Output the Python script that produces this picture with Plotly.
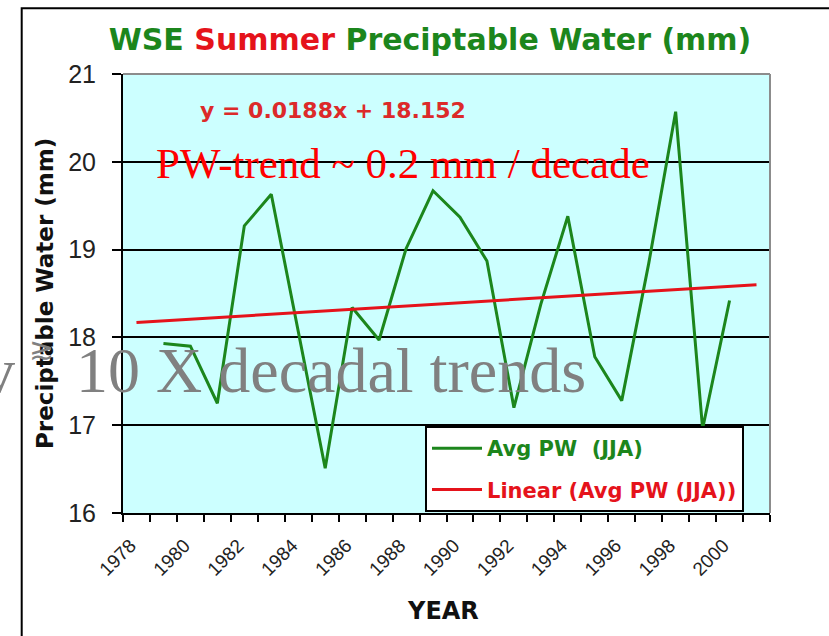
import plotly.graph_objects as go

# ---- data ----
years = [1979, 1980, 1981, 1982, 1983, 1984, 1985, 1986, 1987, 1988, 1989,
         1990, 1991, 1992, 1993, 1994, 1995, 1996, 1997, 1998, 1999, 2000]
avg_pw = [17.93, 17.90, 17.25, 19.27, 19.63, 18.05, 16.51, 18.34, 17.97, 19.01, 19.67,
          19.37, 18.87, 17.20, 18.38, 19.38, 17.78, 17.28, 18.84, 20.57, 16.96, 18.42]
trend_years = [1978, 2001]
trend_values = [18.17, 18.60]
tick_years = [1978, 1980, 1982, 1984, 1986, 1988, 1990, 1992, 1994, 1996, 1998, 2000]
tick_labels = [str(y) for y in tick_years]
category_edges = [1977.5 + i for i in range(25)]

GREEN = "#1C861C"
RED = "#E5131B"
GREY = "#808080"

W, H = 829, 636
L, R, T, B = 123, 59, 74, 123
PW = W - L - R
PH = H - T - B


def xp(px):
    return (px - L) / PW


def yp(py):
    return (H - B - py) / PH


fig = go.Figure()
fig.add_trace(go.Scatter(
    x=years, y=avg_pw, mode="lines",
    name="<b><span style='color:%s'>Avg PW  (JJA)</span></b>" % GREEN,
    line=dict(color=GREEN, width=3), legendgroup="a"))
fig.add_trace(go.Scatter(
    x=trend_years, y=trend_values, mode="lines",
    name="<b><span style='color:%s'>Linear (Avg PW (JJA))</span></b>" % RED,
    line=dict(color=RED, width=3), legendgroup="b"))

fig.update_layout(
    width=W, height=H,
    margin=dict(l=L, r=R, t=T, b=B),
    paper_bgcolor="white",
    plot_bgcolor="#CCFFFF",
    title=dict(
        text=("<b><span style='color:%s'>WSE </span>"
              "<span style='color:%s'>Summer </span>"
              "<span style='color:%s'>Preciptable Water (mm)</span></b>") % (GREEN, RED, GREEN),
        font=dict(family="DejaVu Sans", size=30),
        xref="container", yref="container",
        x=430 / W, xanchor="center", y=1 - 39 / H, yanchor="middle"),
    showlegend=True,
    legend=dict(
        x=xp(425), y=yp(426), xanchor="left", yanchor="top",
        bgcolor="white", bordercolor="black", borderwidth=2,
        font=dict(family="DejaVu Sans", size=21, color="black"),
        itemwidth=50, traceorder="grouped", tracegroupgap=11),
    xaxis=dict(
        range=[1977.5, 2001.5], tickmode="array", tickvals=tick_years, ticktext=tick_labels,
        tickangle=-45, ticks="", showgrid=False, zeroline=False,
        showline=True, linecolor="black", linewidth=2,
        tickfont=dict(family="Liberation Sans", size=19, color="#222"),
        ticklabelstandoff=12, ticklabelshift=-6,
        minor=dict(tickmode="array", tickvals=category_edges, ticks="outside",
                   ticklen=7, tickwidth=2, tickcolor="black", showgrid=False)),
    yaxis=dict(
        range=[16, 21], dtick=1, tick0=16, showgrid=True, gridcolor="black", gridwidth=2,
        zeroline=False, showline=True, linecolor="black", linewidth=2,
        ticks="outside", ticklen=9, tickwidth=2, tickcolor="black",
        tickfont=dict(family="Liberation Sans", size=25, color="#222"),
        ticklabelstandoff=11),
)

annotations = [
    dict(text="<b>y = 0.0188x + 18.152</b>", x=xp(333), y=yp(110), xanchor="center", yanchor="middle",
         font=dict(family="DejaVu Sans", size=22, color="#DC2A2A")),
    dict(text="PW-trend ~ 0.2 mm / decade", x=xp(403), y=yp(163), xanchor="center", yanchor="middle",
         font=dict(family="Liberation Serif", size=43, color="#FF0000")),
    dict(text="<b>Preciptable Water (mm)</b>", x=xp(45), y=yp(294), textangle=-90,
         xanchor="center", yanchor="middle",
         font=dict(family="DejaVu Sans", size=23, color="#111")),
    dict(text="<b>YEAR</b>", x=xp(443), y=yp(611), xanchor="center", yanchor="middle",
         font=dict(family="DejaVu Sans", size=24, color="#111")),
    # overlaid slide text, cut by the left edge as in the reference
    dict(text="v", x=xp(17), y=yp(370), xanchor="right", yanchor="middle",
         font=dict(family="Liberation Serif", size=64, color=GREY)),
    dict(text="\u2273", x=xp(41), y=yp(349), xanchor="center", yanchor="middle",
         font=dict(family="DejaVu Sans", size=30, color=GREY)),
    dict(text="10 X decadal trends", x=xp(588), y=yp(370), xanchor="right", yanchor="middle",
         font=dict(family="Liberation Serif", size=64, color=GREY)),
]
for a in annotations:
    a.update(xref="paper", yref="paper", showarrow=False)
fig.update_layout(annotations=annotations)

fig.update_layout(shapes=[
    # outer chart frame (only its left and top edges fall inside the picture)
    dict(type="rect", xref="paper", yref="paper", x0=xp(21.7), x1=xp(900), y0=yp(700), y1=yp(8.3),
         line=dict(color="black", width=2), fillcolor="rgba(0,0,0,0)", layer="below"),
    # grey plot-area border (top and right)
    dict(type="line", xref="paper", yref="paper", x0=0, x1=1, y0=1, y1=1,
         line=dict(color="#8C8C8C", width=2), layer="above"),
    dict(type="line", xref="paper", yref="paper", x0=1, x1=1, y0=0, y1=1,
         line=dict(color="#8C8C8C", width=2), layer="above"),
])

fig.write_html(
    "out.html",
    config={"displayModeBar": False},
    post_script="document.body.style.margin='0';document.body.style.overflow='hidden';",
)
